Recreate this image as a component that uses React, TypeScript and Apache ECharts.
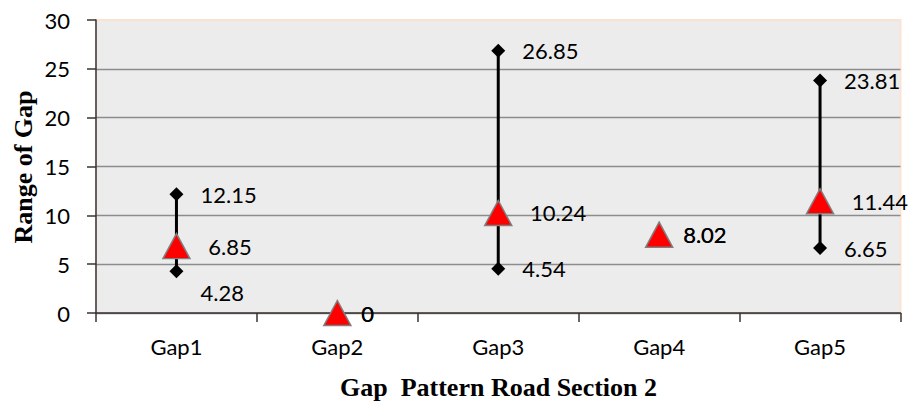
import React, { useEffect, useRef } from "react";
import * as echarts from "echarts";

// Gap range per category: highest, lowest and mean gap
const categories = ["Gap1", "Gap2", "Gap3", "Gap4", "Gap5"];
const highValues = [12.15, 0, 26.85, 8.02, 23.81];
const lowValues = [4.28, 0, 4.54, 8.02, 6.65];
const meanValues = [6.85, 0, 10.24, 8.02, 11.44];
const yTicks = { min: 0, max: 30, interval: 5 };

const LABEL_FONT = "Lato, 'Noto Sans', sans-serif";
const TITLE_FONT = "'Liberation Serif', 'DejaVu Serif', serif";

export default function App() {
  const ref = useRef<HTMLDivElement>(null);

  useEffect(() => {
    if (!ref.current) return;
    const chart = echarts.init(ref.current, null, { renderer: "svg" });

    const valueLabel = {
      show: true,
      position: "right" as const,
      color: "#000",
      fontFamily: LABEL_FONT,
      fontSize: 22,
      formatter: (p: any) => String(p.value),
    };

    // points where range collapses to the mean: the mean label is left off
    const collapsed = meanValues.map((m, i) => highValues[i] === m && lowValues[i] === m);

    const option: any = {
      animation: false,
      backgroundColor: "#ffffff",
      grid: {
        left: 96,
        right: 10.5,
        top: 20,
        bottom: 90,
        show: true,
        backgroundColor: "#ececec",
        borderColor: "#fbe3d2",
        borderWidth: 2,
      },
      xAxis: {
        type: "category",
        data: categories,
        boundaryGap: true,
        axisLine: { show: true, lineStyle: { color: "#3a3232", width: 1.5 } },
        axisTick: { show: true, length: 9, interval: 0, alignWithLabel: false, lineStyle: { color: "#3a3232", width: 1.5 } },
        axisLabel: { margin: 22, color: "#000", fontFamily: LABEL_FONT, fontSize: 22 },
        splitLine: { show: false },
      },
      yAxis: {
        type: "value",
        min: yTicks.min,
        max: yTicks.max,
        interval: yTicks.interval,
        axisLine: { show: true, lineStyle: { color: "#3a3232", width: 1.5 } },
        axisTick: { show: true, length: 9, lineStyle: { color: "#3a3232", width: 1.5 } },
        axisLabel: { margin: 26, color: "#000", fontFamily: LABEL_FONT, fontSize: 22 },
        splitLine: {
          show: true,
          lineStyle: {
            color: ["#8c8c8c", "#8c8c8c", "#8c8c8c", "#8c8c8c", "#8c8c8c", "#8c8c8c", "#fbe3d2"],
            width: 1.3,
          },
        },
      },
      graphic: [
        {
          type: "text",
          x: 23,
          y: 167,
          rotation: Math.PI / 2,
          style: {
            text: "Range of Gap",
            font: `bold 26px ${TITLE_FONT}`,
            fill: "#000",
            align: "center",
            verticalAlign: "middle",
          },
        },
        {
          type: "text",
          x: 498.5,
          y: 387,
          style: {
            text: "Gap  Pattern Road Section 2",
            font: `bold 26px ${TITLE_FONT}`,
            fill: "#000",
            align: "center",
            verticalAlign: "middle",
          },
        },
      ],
      series: [
        {
          name: "Range",
          type: "custom",
          z: 2,
          data: categories.map((_, i) => [i, lowValues[i], highValues[i]]),
          renderItem: (params: any, api: any) => {
            const a = api.coord([api.value(0), api.value(1)]);
            const b = api.coord([api.value(0), api.value(2)]);
            return {
              type: "line",
              shape: { x1: a[0], y1: a[1], x2: b[0], y2: b[1] },
              style: { stroke: "#000", lineWidth: 3 },
            };
          },
        },
        {
          name: "High",
          type: "scatter",
          z: 3,
          clip: false,
          symbol: "diamond",
          symbolSize: 14,
          itemStyle: { color: "#000", opacity: 1 },
          label: { ...valueLabel, distance: 17 },
          data: highValues,
        },
        {
          name: "Low",
          type: "scatter",
          z: 3,
          clip: false,
          symbol: "diamond",
          symbolSize: 14,
          itemStyle: { color: "#000", opacity: 1 },
          label: { ...valueLabel, distance: 17 },
          // the first low label sits under its marker to stay clear of the mean label
          data: lowValues.map((v, i) => (i === 0 ? { value: v, label: { offset: [0, 21] } } : v)),
        },
        {
          name: "Mean",
          type: "scatter",
          z: 4,
          clip: false,
          symbol: "triangle",
          symbolSize: [27, 25],
          itemStyle: { color: "#ff0000", borderColor: "#7f7f7f", borderWidth: 1.5, opacity: 1 },
          label: { ...valueLabel, distance: 17.5 },
          data: meanValues.map((v, i) => (collapsed[i] ? { value: v, label: { show: false } } : v)),
        },
      ],
    };

    chart.setOption(option);
    return () => chart.dispose();
  }, []);

  return (
    <div
      ref={ref}
      style={{ position: "fixed", left: 0, top: 0, width: 911, height: 403, background: "#fff" }}
    />
  );
}
